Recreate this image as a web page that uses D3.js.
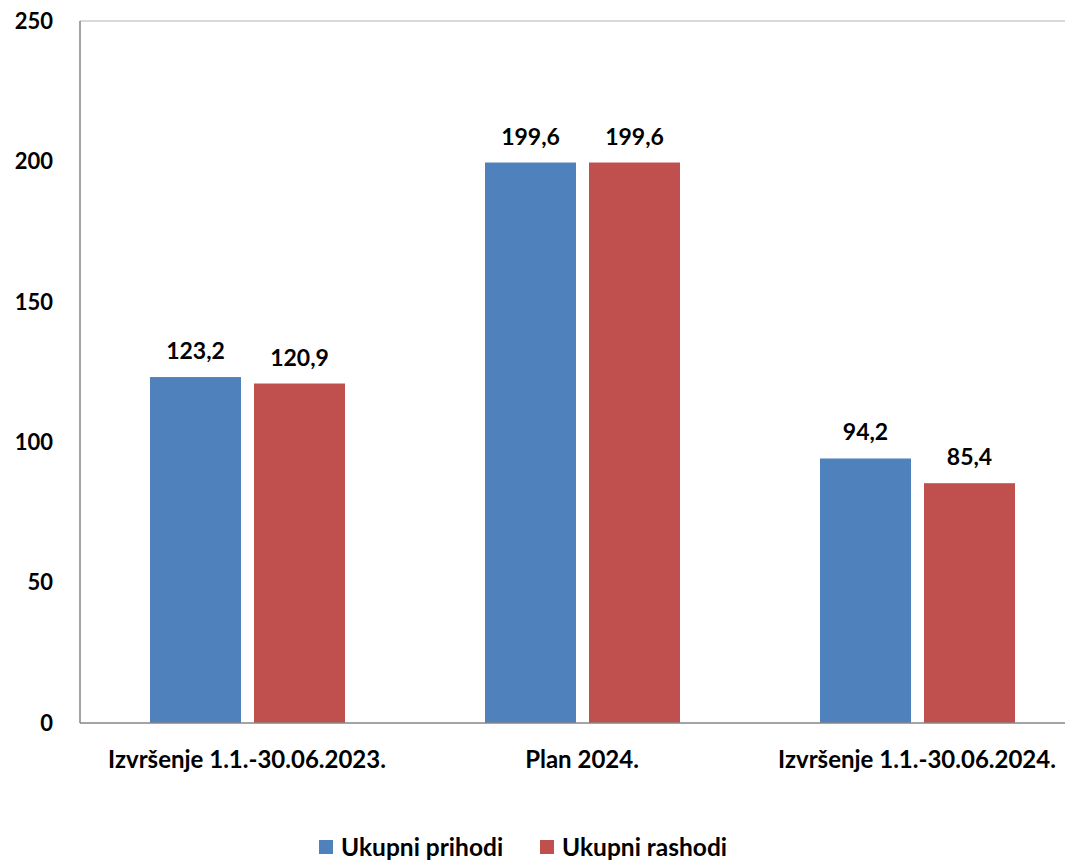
<!DOCTYPE html>
<html><head><meta charset="utf-8">
<script src="https://cdn.jsdelivr.net/npm/d3@7"></script>
<style>
body{margin:0;background:#fff;}
text{font-family:Lato,"Open Sans",sans-serif;font-weight:bold;fill:#000;}
</style></head>
<body>
<svg id="c" width="1065" height="862"></svg>
<script>
const categories = ["Izvršenje 1.1.-30.06.2023.", "Plan 2024.", "Izvršenje 1.1.-30.06.2024."];
const seriesNames = ["Ukupni prihodi", "Ukupni rashodi"];
const prihodi = [123.2, 199.6, 94.2];
const rashodi = [120.9, 199.6, 85.4];
const yTicks = [0, 50, 100, 150, 200, 250];
const colors = ["#4F81BD", "#C0504D"];

const svg = d3.select("#c");
const mLeft = 80, mRight = 1085, mTop = 21, mBottom = 723;
const x = d3.scaleBand().domain(categories).range([mLeft, mRight]).paddingInner(0).paddingOuter(0);
const y = d3.scaleLinear().domain([0, 250]).range([mBottom, mTop]);
const barW = 91, gap = 13;

// top border line
svg.append("line").attr("x1", mLeft).attr("x2", 1065).attr("y1", mTop).attr("y2", mTop)
  .attr("stroke", "#d9d9d9").attr("stroke-width", 2);

const fmt = v => v.toFixed(1).replace(".", ",");
const series = [prihodi, rashodi];
series.forEach((vals, si) => {
  const g = svg.append("g");
  categories.forEach((c, i) => {
    const cx = x(c) + x.bandwidth() / 2;
    const bx = si === 0 ? cx - gap / 2 - barW : cx + gap / 2;
    g.append("rect").attr("x", bx).attr("y", y(vals[i])).attr("width", barW)
      .attr("height", y(0) - y(vals[i])).attr("fill", colors[si]);
    g.append("text").attr("x", bx + barW / 2).attr("y", y(vals[i]) - 18)
      .attr("text-anchor", "middle").attr("font-size", 23).text(fmt(vals[i]));
  });
});

// axes
svg.append("line").attr("x1", mLeft).attr("x2", mLeft).attr("y1", mTop).attr("y2", mBottom)
  .attr("stroke", "#868686").attr("stroke-width", 1.5);
svg.append("line").attr("x1", mLeft).attr("x2", 1065).attr("y1", mBottom).attr("y2", mBottom)
  .attr("stroke", "#868686").attr("stroke-width", 1.5);
yTicks.forEach(t => {
  svg.append("text").attr("x", 53).attr("y", y(t)).attr("dy", "0.35em")
    .attr("text-anchor", "end").attr("font-size", 22).text(t);
});

// x labels
categories.forEach(c => {
  svg.append("text").attr("x", x(c) + x.bandwidth() / 2 - 0.5).attr("y", 760).attr("dy", "0.35em")
    .attr("text-anchor", "middle").attr("font-size", 24).text(c);
});

// legend
const leg = [{x: 319, tx: 341}, {x: 540, tx: 562}];
seriesNames.forEach((n, i) => {
  svg.append("rect").attr("x", leg[i].x).attr("y", 840).attr("width", 14).attr("height", 14).attr("fill", colors[i]);
  svg.append("text").attr("x", leg[i].tx).attr("y", 847).attr("dy", "0.35em").attr("font-size", 24.5).text(n);
});
</script>
</body></html>
